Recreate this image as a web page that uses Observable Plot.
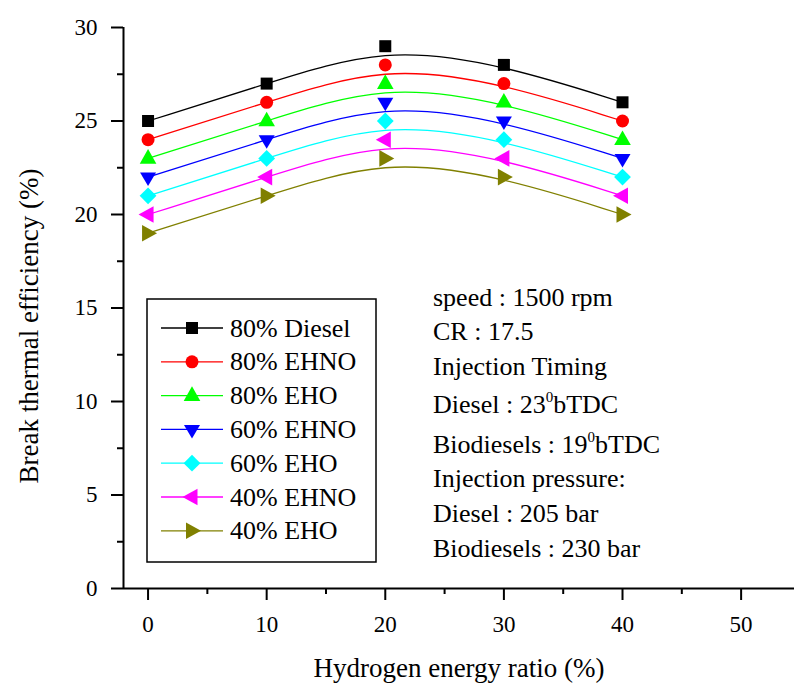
<!DOCTYPE html>
<html>
<head>
<meta charset="utf-8">
<script src="https://cdn.jsdelivr.net/npm/d3@7"></script>
<script src="https://cdn.jsdelivr.net/npm/@observablehq/plot@0.6"></script>
<style>
  html, body { margin: 0; padding: 0; background: #fff; }
  #chart { position: relative; width: 794px; height: 691px; }
</style>
</head>
<body>
<div id="chart"></div>
<script>
// ---- data ----
const hydrogenRatio = [0, 10, 20, 30, 40];
const seriesNames = ["80% Diesel", "80% EHNO", "80% EHO", "60% EHNO", "60% EHO", "40% EHNO", "40% EHO"];
const diesel80 = [25, 27, 29, 28, 26];
const ehno80   = [24, 26, 28, 27, 25];
const eho80    = [23, 25, 27, 26, 24];
const ehno60   = [22, 24, 26, 25, 23];
const eho60    = [21, 23, 25, 24, 22];
const ehno40   = [20, 22, 24, 23, 21];
const eho40    = [19, 21, 23, 22, 20];
const seriesValues = [diesel80, ehno80, eho80, ehno60, eho60, ehno40, eho40];
const xTicks = [0, 10, 20, 30, 40, 50];
const xMinorTicks = [5, 15, 25, 35, 45];
const yTicks = [0, 5, 10, 15, 20, 25, 30];
const yMinorTicks = [2.5, 7.5, 12.5, 17.5, 22.5, 27.5];
const xTitle = "Hydrogen energy ratio (%)";
const yTitle = "Break thermal efficiency (%)";
const notes = [
  ["speed : 1500 rpm"],
  ["CR : 17.5"],
  ["Injection Timing"],
  ["Diesel : 23", "0", "bTDC"],
  ["Biodiesels : 19", "0", "bTDC"],
  ["Injection pressure:"],
  ["Diesel : 205 bar"],
  ["Biodiesels : 230 bar"]
];

// ---- styles ----
const colors = ["#000000", "#ff0000", "#00ff00", "#0000ff", "#00ffff", "#ff00ff", "#808000"];
const symbols = [
  {draw(c) { c.rect(-6, -6, 12, 12); }},
  {draw(c) { c.moveTo(6.5, 0); c.arc(0, 0, 6.5, 0, 2 * Math.PI); }},
  {draw(c) { c.moveTo(0, -9.3); c.lineTo(8.3, 5.3); c.lineTo(-8.3, 5.3); c.closePath(); }},
  {draw(c) { c.moveTo(0, 9); c.lineTo(8, -4.5); c.lineTo(-8, -4.5); c.closePath(); }},
  {draw(c) { c.moveTo(0, -8.4); c.lineTo(8.4, 0); c.lineTo(0, 8.4); c.lineTo(-8.4, 0); c.closePath(); }},
  {draw(c) { c.moveTo(-9.5, 0); c.lineTo(5.5, -8.3); c.lineTo(5.5, 8.3); c.closePath(); }},
  {draw(c) { c.moveTo(9, 0); c.lineTo(-6, -8.3); c.lineTo(-6, 8.3); c.closePath(); }}
];

const rows = [];
seriesNames.forEach((name, i) => {
  hydrogenRatio.forEach((x, j) => rows.push({series: name, idx: i, x, y: seriesValues[i][j]}));
});

const xDomain = [-2.07, 54.5];
const font = "Liberation Serif, Times New Roman, serif";

const marks = [];
marks.push(Plot.ruleY([0], {strokeWidth: 2}));
marks.push(Plot.ruleX([xDomain[0]], {y1: 0, y2: 30, strokeWidth: 2}));
marks.push(Plot.axisX({ticks: xTicks, tickSize: 12, tickPadding: 15, fontSize: 23, strokeWidth: 2, label: null}));
marks.push(Plot.axisX({ticks: xMinorTicks, tickSize: 6, tickFormat: () => "", strokeWidth: 2, label: null}));
marks.push(Plot.axisY({ticks: yTicks, tickSize: 12, tickPadding: 14, fontSize: 23, strokeWidth: 2, label: null}));
marks.push(Plot.axisY({ticks: yMinorTicks, tickSize: 6, tickFormat: () => "", strokeWidth: 2, label: null}));
seriesNames.forEach((name, i) => {
  const d = rows.filter(r => r.idx === i);
  marks.push(Plot.line(d, {x: "x", y: "y", curve: "basis", stroke: colors[i], strokeWidth: 1.3}));
});
seriesNames.forEach((name, i) => {
  const d = rows.filter(r => r.idx === i);
  marks.push(Plot.dot(d, {x: "x", y: "y", symbol: symbols[i], r: 6, fill: colors[i], stroke: "none"}));
});
marks.push(Plot.text([xTitle], {frameAnchor: "bottom", dy: 80, fontSize: 27, textAnchor: "middle", lineAnchor: "middle", fill: "#000"}));
marks.push(Plot.text([yTitle], {frameAnchor: "left", dx: -94, dy: 18, rotate: -90, fontSize: 27, textAnchor: "middle", lineAnchor: "middle", fill: "#000"}));

const svg = Plot.plot({
  width: 794,
  height: 691,
  marginLeft: 123,
  marginRight: 0,
  marginTop: 27,
  marginBottom: 103,
  x: {domain: xDomain},
  y: {domain: [0, 30]},
  style: {fontFamily: font, background: "#fff", color: "#000", overflow: "visible"},
  marks
});
document.getElementById("chart").appendChild(svg);

// ---- legend ----
const g = d3.select(svg).append("g").attr("font-family", font).attr("text-anchor", "start");
g.append("rect").attr("x", 147).attr("y", 299).attr("width", 229).attr("height", 263)
  .attr("fill", "#fff").attr("stroke", "#000").attr("stroke-width", 1.5);
seriesNames.forEach((name, i) => {
  const cy = 328 + i * 33.8;
  g.append("line").attr("x1", 161).attr("x2", 223).attr("y1", cy).attr("y2", cy)
    .attr("stroke", colors[i]).attr("stroke-width", 1.3);
  g.append("path").attr("d", d3.symbol(symbols[i], 100)()).attr("transform", `translate(192,${cy})`)
    .attr("fill", colors[i]);
  g.append("text").attr("x", 230).attr("y", cy + 8.5).attr("font-size", 26).attr("fill", "#000").text(name);
});

// ---- annotation ----
const baselines = [306, 340, 375, 413, 453, 487, 522, 557];
const a = d3.select(svg).append("g").attr("font-family", font).attr("font-size", 26)
  .attr("fill", "#000").attr("text-anchor", "start");
notes.forEach((parts, i) => {
  const t = a.append("text").attr("x", 433).attr("y", baselines[i]);
  t.append("tspan").text(parts[0]);
  if (parts.length > 1) {
    t.append("tspan").attr("font-size", 15).attr("dy", -11).text(parts[1]);
    t.append("tspan").attr("dy", 11).text(parts[2]);
  }
});
</script>
</body>
</html>
